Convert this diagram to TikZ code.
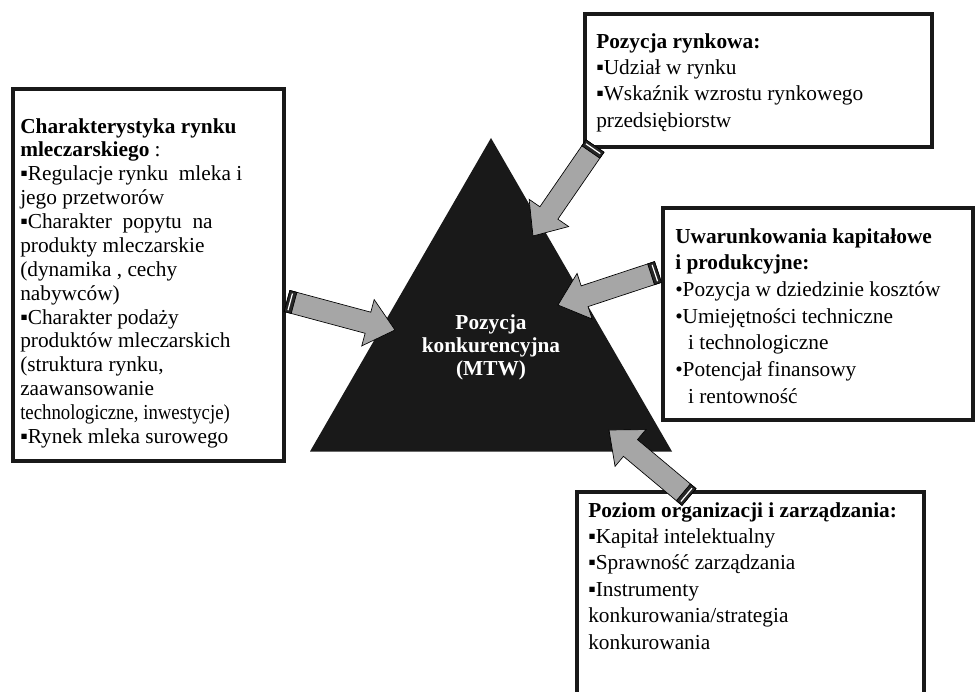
\documentclass[tikz,border=0pt]{standalone}
\usepackage{graphicx}
\usepackage{fontspec}
\setmainfont{Liberation Serif}
\usetikzlibrary{calc,fit,shapes.geometric}

\tikzset{
  infobox/.style={draw=black!90, line width=2.6pt, inner sep=0pt},
  boxtext/.style={anchor=north west, inner sep=0pt, align=left, font=\fontsize{16}{19.8}\selectfont},
  blockarrow/.style={draw=black, line width=0.5pt, fill=black!35, line join=miter},
  tailband/.style={draw=black, line width=0.5pt, fill=black!85}
}

\begin{document}
\begin{tikzpicture}[x=0.75pt, y=-0.75pt]
\useasboundingbox (0,0) rectangle (976,692);

% frames
\node[infobox, fit={(13,89) (284,461)}] (rynek) {};
\node[infobox, fit={(585,14) (932,147)}] (pozycja) {};
\node[infobox, fit={(663,208) (973,420)}] (kapital) {};
\node[infobox, fit={(577,492) (924,730)}] (organizacja) {};

\node[boxtext, font=\fontsize{16}{17.9}\selectfont] (rynek-text) at (20,118) {\textbf{Charakterystyka rynku}\\
\textbf{mleczarskiego} :\\
▪Regulacje rynku\ \ mleka i\\
jego przetworów\\
▪Charakter\ \ popytu\ \ na\\
produkty mleczarskie\\
(dynamika , cechy\\
nabywców)\\
▪Charakter podaży\\
produktów mleczarskich\\
(struktura rynku,\\
zaawansowanie\\
\scalebox{0.88}[1]{technologiczne, inwestycje)}\\
▪Rynek mleka surowego};

\node[boxtext] (pozycja-text) at (596,33) {\textbf{Pozycja rynkowa:}\\
▪Udział w rynku\\
▪Wskaźnik wzrostu rynkowego\\
przedsiębiorstw};

\node[boxtext, font=\fontsize{16}{20}\selectfont] (kapital-text) at (675,228) {\textbf{Uwarunkowania kapitałowe}\\
\textbf{i produkcyjne:}\\
•Pozycja w dziedzinie kosztów\\
•Umiejętności techniczne\\
\hspace*{0.6em}i technologiczne\\
•Potencjał finansowy\\
\hspace*{0.6em}i rentowność};

\node[boxtext] (organizacja-text) at (588,502) {\textbf{Poziom organizacji i zarządzania:}\\
▪Kapitał intelektualny\\
▪Sprawność zarządzania\\
▪Instrumenty\\
konkurowania/strategia\\
konkurowania};

% triangle
\node[regular polygon, regular polygon sides=3, minimum size=313.5pt, inner sep=0pt,
  fill=black!90, text=white, align=center,
  font=\bfseries\fontsize{16}{17.3}\selectfont] (mtw) at (491,347)
  {Pozycja\\konkurencyjna\\(MTW)};

% arrows
\coordinate (ta) at (595,146); \coordinate (ha) at (533,236);
\coordinate (tb) at (287,301); \coordinate (hb) at (395,330);
\coordinate (tc) at (658,272); \coordinate (hc) at (558,305);
\coordinate (td) at (689,497); \coordinate (hd) at (609,430);

\foreach \t/\h in {ta/ha, tb/hb, tc/hc, td/hd} {
  \coordinate (\h-base) at ($(\h)!21pt!(\t)$);
  \coordinate (\t-end) at ($(\t)!5.5pt!(\h)$);
  \coordinate (\t-mid) at ($(\t)!2.5pt!(\h)$);
  \draw[blockarrow] ($(\t)!8.2pt!90:(\h)$) -- ($(\h-base)!8.2pt!90:(\h)$)
    -- ($(\h-base)!18pt!90:(\h)$) -- (\h) -- ($(\h-base)!18pt!-90:(\h)$)
    -- ($(\h-base)!8.2pt!-90:(\h)$) -- ($(\t)!8.2pt!-90:(\h)$) -- cycle;
  \draw[tailband] ($(\t)!8.2pt!90:(\h)$) -- ($(\t-end)!8.2pt!90:(\h)$)
    -- ($(\t-end)!8.2pt!-90:(\h)$) -- ($(\t)!8.2pt!-90:(\h)$) -- cycle;
  \draw[white, line width=0.9pt] ($(\t-mid)!6.5pt!90:(\h)$) -- ($(\t-mid)!6.5pt!-90:(\h)$);
}
\end{tikzpicture}
\end{document}
